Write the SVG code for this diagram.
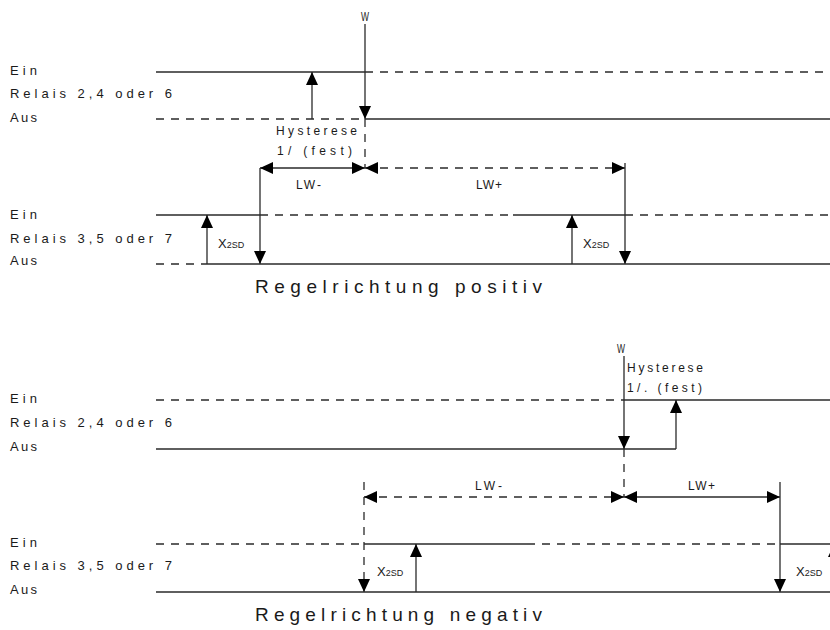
<svg xmlns="http://www.w3.org/2000/svg" width="830" height="630" viewBox="0 0 830 630">
<style>
text{font-family:"Liberation Sans","DejaVu Sans",sans-serif;fill:#1a1a1a;}
.lbl{font-size:13px;}
.sm{font-size:12px;}
.big{font-size:19px;}
.sub{font-size:9px;}
.w{font-size:13px;}
.s{stroke:#2a2a2a;stroke-width:1.3;fill:none;}
.d{stroke:#2a2a2a;stroke-width:1.3;fill:none;stroke-dasharray:8 7;}
.a{marker-end:url(#ah);}
.b{marker-start:url(#ah);}
</style>
<defs>
<marker id="ah" viewBox="0 0 13 12" refX="13" refY="6" markerWidth="13" markerHeight="12" markerUnits="userSpaceOnUse" orient="auto-start-reverse">
<path d="M0,0 L13,6 L0,12 z" fill="#000"/>
</marker>
</defs>
<rect width="830" height="630" fill="#fff"/>

<g id="labels-top">
<text class="lbl" x="10" y="75" textLength="27" lengthAdjust="spacing">Ein</text>
<text class="lbl" x="10" y="98" textLength="162" lengthAdjust="spacing">Relais 2,4 oder 6</text>
<text class="lbl" x="10" y="122" textLength="27" lengthAdjust="spacing">Aus</text>
<text class="lbl" x="10" y="219" textLength="27" lengthAdjust="spacing">Ein</text>
<text class="lbl" x="10" y="243" textLength="162" lengthAdjust="spacing">Relais 3,5 oder 7</text>
<text class="lbl" x="10" y="265" textLength="27" lengthAdjust="spacing">Aus</text>
<text class="big" x="255" y="293" textLength="287" lengthAdjust="spacing">Regelrichtung positiv</text>
<text class="w" x="361" y="21" textLength="8" lengthAdjust="spacingAndGlyphs">W</text>
<text class="sm" x="276" y="135" textLength="81" lengthAdjust="spacing">Hysterese</text>
<text class="sm" x="277" y="155" textLength="75" lengthAdjust="spacing">1/ (fest)</text>
<text class="sm" x="296" y="189" textLength="25" lengthAdjust="spacing">LW-</text>
<text class="sm" x="476" y="189" textLength="26" lengthAdjust="spacing">LW+</text>
<text class="lbl" x="218" y="248">X<tspan class="sub">2SD</tspan></text>
<text class="lbl" x="583" y="248">X<tspan class="sub">2SD</tspan></text>
</g>

<g id="labels-bottom">
<text class="lbl" x="10" y="403" textLength="27" lengthAdjust="spacing">Ein</text>
<text class="lbl" x="10" y="427" textLength="162" lengthAdjust="spacing">Relais 2,4 oder 6</text>
<text class="lbl" x="10" y="451" textLength="27" lengthAdjust="spacing">Aus</text>
<text class="lbl" x="10" y="547" textLength="27" lengthAdjust="spacing">Ein</text>
<text class="lbl" x="10" y="570" textLength="162" lengthAdjust="spacing">Relais 3,5 oder 7</text>
<text class="lbl" x="10" y="594" textLength="27" lengthAdjust="spacing">Aus</text>
<text class="big" x="255" y="621" textLength="287" lengthAdjust="spacing">Regelrichtung negativ</text>
<text class="w" x="617" y="353" textLength="8" lengthAdjust="spacingAndGlyphs">W</text>
<text class="sm" x="627" y="372" textLength="76" lengthAdjust="spacing">Hysterese</text>
<text class="sm" x="627" y="392" textLength="75" lengthAdjust="spacing">1/. (fest)</text>
<text class="sm" x="475" y="490" textLength="27" lengthAdjust="spacing">LW-</text>
<text class="sm" x="688" y="490" textLength="27" lengthAdjust="spacing">LW+</text>
<text class="lbl" x="377" y="576">X<tspan class="sub">2SD</tspan></text>
<text class="lbl" x="796" y="576">X<tspan class="sub">2SD</tspan></text>
</g>

<g id="connectors">
<line class="s" x1="156" y1="72" x2="365" y2="72"/>
<line class="d" x1="365" y1="72" x2="830" y2="72"/>
<line class="d" x1="156" y1="119" x2="365" y2="119"/>
<line class="s" x1="365" y1="119" x2="830" y2="119"/>
<line class="s a" x1="312" y1="119" x2="312" y2="72"/>
<line class="s a" x1="365" y1="24" x2="365" y2="119"/>
<line class="d" x1="365" y1="119" x2="365" y2="168"/>
<line class="s a b" x1="260" y1="168" x2="365" y2="168"/>
<line class="d a b" x1="365" y1="168" x2="625" y2="168"/>
<line class="s a" x1="260" y1="168" x2="260" y2="264"/>
<line class="s a" x1="625" y1="163" x2="625" y2="264"/>
<line class="s" x1="156" y1="215" x2="260" y2="215"/>
<line class="d" x1="260" y1="215" x2="513" y2="215"/>
<line class="s" x1="513" y1="215" x2="625" y2="215"/>
<line class="d" x1="625" y1="215" x2="830" y2="215"/>
<line class="d" x1="156" y1="264" x2="207" y2="264"/>
<line class="s" x1="207" y1="264" x2="830" y2="264"/>
<line class="s a" x1="207" y1="264" x2="207" y2="215"/>
<line class="s a" x1="572" y1="264" x2="572" y2="215"/>

<line class="d" x1="156" y1="400" x2="624" y2="400"/>
<line class="s" x1="624" y1="400" x2="830" y2="400"/>
<line class="s" x1="156" y1="449" x2="676" y2="449"/>
<line class="s a" x1="676" y1="449" x2="676" y2="400"/>
<line class="s a" x1="624" y1="356" x2="624" y2="449"/>
<line class="d" x1="624" y1="449" x2="624" y2="497"/>
<line class="d a b" x1="364" y1="497" x2="624" y2="497"/>
<line class="s a b" x1="624" y1="497" x2="780" y2="497"/>
<line class="d a" x1="364" y1="482" x2="364" y2="592"/>
<line class="s a" x1="780" y1="482" x2="780" y2="592"/>
<line class="d" x1="156" y1="544" x2="364" y2="544"/>
<line class="s" x1="364" y1="544" x2="527" y2="544"/>
<line class="d" x1="527" y1="544" x2="780" y2="544"/>
<line class="s" x1="780" y1="544" x2="830" y2="544"/>
<line class="s" x1="156" y1="592" x2="830" y2="592"/>
<line class="s a" x1="416" y1="592" x2="416" y2="544"/>
<line class="s a" x1="834" y1="592" x2="834" y2="544"/>
</g>
</svg>
